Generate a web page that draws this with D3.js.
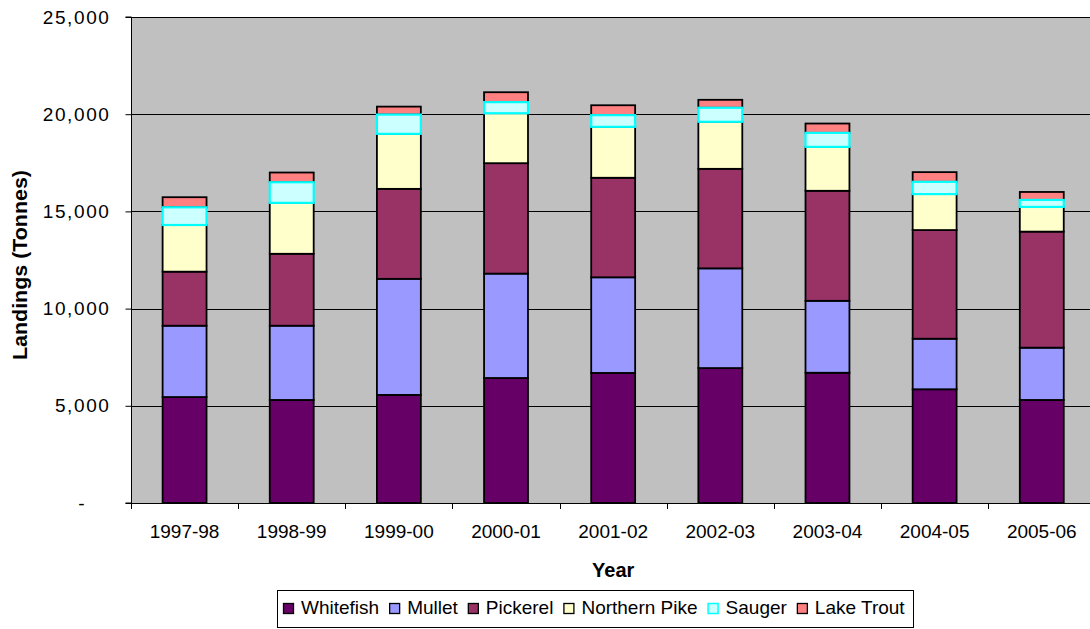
<!DOCTYPE html>
<html>
<head>
<meta charset="utf-8">
<script src="https://cdn.jsdelivr.net/npm/d3@7"></script>
<style>
  html, body { margin: 0; padding: 0; background: #fff; }
  svg { display: block; font-family: Arial, "Liberation Sans", sans-serif; }
</style>
</head>
<body>
<svg id="chart" width="1090" height="629"></svg>
<script>
// ---- data ----
const years = ["1997-98", "1998-99", "1999-00", "2000-01", "2001-02", "2002-03", "2003-04", "2004-05", "2005-06"];
const seriesNames = ["Whitefish", "Mullet", "Pickerel", "Northern Pike", "Sauger", "Lake Trout"];
const whitefish   = [5450, 5300, 5560, 6430, 6690, 6940, 6700, 5850, 5300];
const mullet      = [3670, 3820, 5970, 5370, 4920, 5130, 3700, 2600, 2690];
const pickerel    = [2780, 3700, 4630, 5680, 5120, 5120, 5660, 5590, 5970];
const northernPike= [2400, 2620, 2830, 2570, 2620, 2420, 2260, 1850, 1270];
const sauger      = [ 910, 1060,  990,  570,  600,  720,  720,  630,  360];
const lakeTrout   = [ 520,  500,  410,  510,  510,  410,  480,  500,  410];
const yTicks = [0, 5000, 10000, 15000, 20000, 25000];
const yTickLabels = ["-\u2007\u2007", "5,000", "10,000", "15,000", "20,000", "25,000"];

const fills   = ["#660066", "#9999FF", "#993366", "#FFFFCC", "#CCFFFF", "#FF8080"];
const strokes = ["#000", "#000", "#000", "#000", "#00FFFF", "#000"];

const seriesValues = [whitefish, mullet, pickerel, northernPike, sauger, lakeTrout];
const table = years.map((yr, i) => {
  const row = { year: yr };
  seriesNames.forEach((s, j) => row[s] = seriesValues[j][i]);
  return row;
});

// ---- layout ----
const svg = d3.select("#chart");
const plotLeft = 131, plotTop = 17, plotBottom = 503;
const step = 107.15;
const plotRight = plotLeft + step * years.length;

const x = d3.scaleBand().domain(years).range([plotLeft, plotRight]).paddingInner(0.59).paddingOuter(0.295);
const xSlot = d3.scaleBand().domain(years).range([plotLeft, plotRight]).padding(0);
const y = d3.scaleLinear().domain([0, 25000]).range([plotBottom, plotTop]);

// plot background
svg.append("rect").attr("x", plotLeft).attr("y", plotTop).attr("width", plotRight - plotLeft).attr("height", plotBottom - plotTop)
  .attr("fill", "#C0C0C0");

// gridlines
svg.append("g").selectAll("line").data(yTicks.filter(d => d > 0)).join("line")
  .attr("x1", plotLeft).attr("x2", plotRight)
  .attr("y1", d => Math.round(y(d)) + 0.5).attr("y2", d => Math.round(y(d)) + 0.5)
  .attr("stroke", "#000").attr("stroke-width", 1);

// stacked bars
const stack = d3.stack().keys(seriesNames);
const layers = stack(table);
const order = [0, 1, 2, 3, 5, 4]; // draw sauger last so its cyan border sits on top
const barsG = svg.append("g");
order.forEach(j => {
  const layer = layers[j];
  barsG.append("g").selectAll("rect").data(layer).join("rect")
    .attr("x", d => x(d.data.year))
    .attr("width", x.bandwidth())
    .attr("y", d => y(d[1]))
    .attr("height", d => y(d[0]) - y(d[1]))
    .attr("fill", fills[j])
    .attr("stroke", strokes[j])
    .attr("stroke-width", j === 4 ? 2.2 : 1.8);
});

// y axis
const yAxis = d3.axisLeft(y).tickValues(yTicks).tickSize(6).tickPadding(15)
  .tickFormat((d, i) => yTickLabels[i]);
const yg = svg.append("g").attr("transform", `translate(${plotLeft + 0.5},0)`).call(yAxis);
yg.select(".domain").attr("stroke", "#000").attr("d", `M-6,${plotTop}H0V${plotBottom}H-6`);
yg.selectAll(".tick line").attr("stroke", "#000");
yg.selectAll(".tick text").attr("font-size", 19).attr("fill", "#000")
  .attr("font-family", "Arial, 'Liberation Sans', sans-serif")
  .style("letter-spacing", "1.6px").style("white-space", "pre");

// x axis
svg.append("line").attr("x1", plotLeft).attr("x2", plotRight).attr("y1", plotBottom + 0.5).attr("y2", plotBottom + 0.5)
  .attr("stroke", "#000");
const xTickPos = years.map(d => xSlot(d)).concat([plotRight]);
svg.append("g").selectAll("line").data(xTickPos).join("line")
  .attr("x1", d => Math.round(d) + 0.5).attr("x2", d => Math.round(d) + 0.5)
  .attr("y1", plotBottom).attr("y2", plotBottom + 6).attr("stroke", "#000");
svg.append("g").selectAll("text").data(years).join("text")
  .attr("x", d => xSlot(d) + xSlot.bandwidth() / 2)
  .attr("y", 538)
  .attr("text-anchor", "middle")
  .attr("font-size", 19)
  .text(d => d);

// axis titles
svg.append("text").attr("x", (plotLeft + plotRight) / 2).attr("y", 577).attr("text-anchor", "middle")
  .attr("font-size", 20).attr("font-weight", "bold").text("Year");
svg.append("text").attr("transform", "translate(27,265) rotate(-90)").attr("text-anchor", "middle")
  .attr("font-size", 20).attr("font-weight", "bold")
  .attr("textLength", 190).attr("lengthAdjust", "spacingAndGlyphs")
  .text("Landings (Tonnes)");

// legend
const lg = svg.append("g");
lg.append("rect").attr("x", 277.5).attr("y", 590.5).attr("width", 636).attr("height", 37)
  .attr("fill", "#fff").attr("stroke", "#000");
let cx = 283;
seriesNames.forEach((s, j) => {
  lg.append("rect").attr("x", cx + 0.5).attr("y", 603.5).attr("width", 10).attr("height", 10)
    .attr("fill", fills[j]).attr("stroke", strokes[j]).attr("stroke-width", j === 4 ? 1.5 : 1.3);
  const t = lg.append("text").attr("x", cx + 18).attr("y", 614).attr("font-size", 19).text(s);
  cx = cx + 18 + t.node().getComputedTextLength() + 10;
});
</script>
</body>
</html>
